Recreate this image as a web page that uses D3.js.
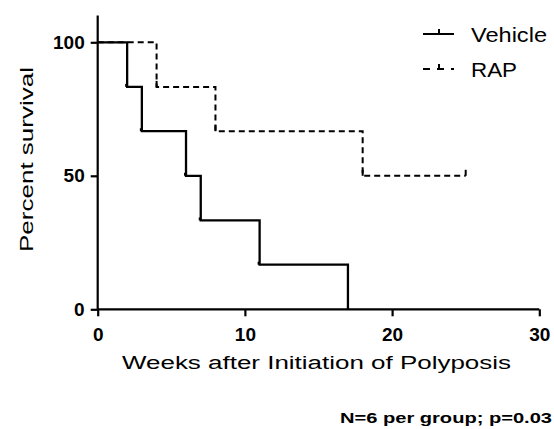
<!DOCTYPE html>
<html>
<head>
<meta charset="utf-8">
<script src="https://cdn.jsdelivr.net/npm/d3@7"></script>
<style>
  body { margin: 0; background: #fff; }
  text { font-family: "Liberation Sans", Arial, sans-serif; fill: #000; }
</style>
</head>
<body>
<div id="chart"></div>
<script>
// survival data (weeks, percent)
const vehicleWeeks = [0, 2, 3, 6, 7, 11, 17];
const vehicleSurvival = [100, 83.3, 66.7, 50, 33.3, 16.7, 0];
const rapWeeks = [0, 4, 8, 18, 25];
const rapSurvival = [100, 83.3, 66.7, 50, 50];

const xTicks = [0, 10, 20, 30];
const yTicks = [0, 50, 100];
const legendLabels = ["Vehicle", "RAP"];

const width = 554;
const height = 429;

const svg = d3.select("#chart")
    .append("svg")
    .attr("width", width)
    .attr("height", height);

const x = d3.scaleLinear().domain([0, 30]).range([97.7, 539.3]);
const y = d3.scaleLinear().domain([0, 110]).range([309.3, 15.6]);

// axes
const xAxis = svg.append("g")
    .attr("transform", `translate(0,${y(0)})`)
    .call(d3.axisBottom(x).tickValues(xTicks).tickSize(7).tickPadding(11).tickSizeOuter(0));

const yAxis = svg.append("g")
    .attr("transform", `translate(${x(0)},0)`)
    .call(d3.axisLeft(y).tickValues(yTicks).tickSize(7).tickPadding(6).tickSizeOuter(0));

[xAxis, yAxis].forEach(g => {
    g.select(".domain").attr("stroke", "#000").attr("stroke-width", 2.2);
    g.selectAll(".tick line").attr("stroke", "#000").attr("stroke-width", 2.2);
    g.selectAll(".tick text")
        .style("font-family", "'Liberation Sans', Arial, sans-serif")
        .style("font-size", "19px")
        .style("font-weight", "bold");
});

// y axis runs up to the top of the domain
yAxis.select(".domain").attr("d", `M0,${y(0)}V${y(110)}`);
xAxis.select(".domain").attr("d", `M${x(0)},0H${x(30)}`);

const line = d3.line()
    .x(d => x(d[0]))
    .y(d => y(d[1]))
    .curve(d3.curveStepAfter);

const vehicle = d3.zip(vehicleWeeks, vehicleSurvival);
const rap = d3.zip(rapWeeks, rapSurvival);

svg.append("path")
    .datum(vehicle)
    .attr("d", line)
    .attr("fill", "none")
    .attr("stroke", "#000")
    .attr("stroke-width", 2.3);

svg.append("path")
    .datum(rap)
    .attr("d", line)
    .attr("fill", "none")
    .attr("stroke", "#000")
    .attr("stroke-width", 2)
    .attr("stroke-dasharray", "6,4");

// small event marks at each step
svg.selectAll(".vmark")
    .data(vehicle.slice(1, -1))
    .join("line")
    .attr("x1", d => x(d[0]) - 1).attr("x2", d => x(d[0]) - 1)
    .attr("y1", d => y(d[1]) - 3).attr("y2", d => y(d[1]))
    .attr("stroke", "#000").attr("stroke-width", 2);

svg.selectAll(".rmark")
    .data(rap.slice(1))
    .join("line")
    .attr("x1", d => x(d[0])).attr("x2", d => x(d[0]))
    .attr("y1", d => y(d[1]) - 6).attr("y2", d => y(d[1]))
    .attr("stroke", "#000").attr("stroke-width", 2);

// axis titles
svg.append("text")
    .attr("x", 122)
    .attr("y", 369)
    .attr("textLength", 389)
    .attr("lengthAdjust", "spacingAndGlyphs")
    .style("font-size", "18px")
    .text("Weeks after Initiation of Polyposis");

svg.append("text")
    .attr("transform", "translate(33,252) rotate(-90)")
    .attr("textLength", 185)
    .attr("lengthAdjust", "spacingAndGlyphs")
    .style("font-size", "19px")
    .text("Percent survival");

// legend
const legendY = [34, 69];
const legend = svg.append("g");
legendLabels.forEach((name, i) => {
    const ly = legendY[i];
    legend.append("line")
        .attr("x1", 423).attr("x2", 454)
        .attr("y1", ly).attr("y2", ly)
        .attr("stroke", "#000")
        .attr("stroke-width", 2)
        .attr("stroke-dasharray", i === 1 ? "7,7" : null);
    legend.append("line")
        .attr("x1", 439).attr("x2", 439)
        .attr("y1", ly - 5).attr("y2", ly)
        .attr("stroke", "#000").attr("stroke-width", 2);
    legend.append("text")
        .attr("x", 471)
        .attr("y", ly + 8)
        .attr("textLength", i === 0 ? 76 : 46)
        .attr("lengthAdjust", "spacingAndGlyphs")
        .style("font-size", "21px")
        .text(name);
});

// footnote
svg.append("text")
    .attr("x", 340)
    .attr("y", 423)
    .attr("textLength", 212)
    .attr("lengthAdjust", "spacingAndGlyphs")
    .style("font-size", "14px")
    .style("font-weight", "bold")
    .text("N=6 per group; p=0.03");
</script>
</body>
</html>
